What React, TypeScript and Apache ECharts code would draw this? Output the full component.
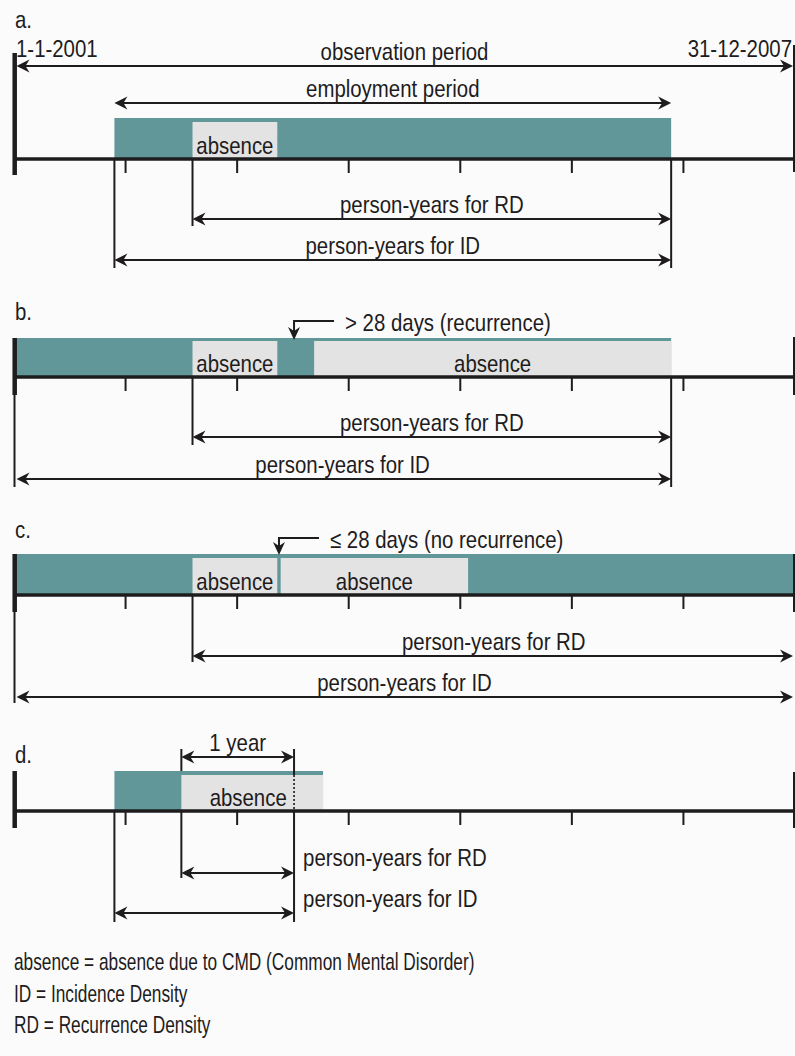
import React, { useEffect, useRef } from "react";
import * as echarts from "echarts";

// ---------- data: positions in years since 1-1-2001 ----------
const START_LABEL = "1-1-2001";
const END_LABEL = "31-12-2007";
const OBSERVATION = [0, 7];
const TICK_YEARS = [1, 2, 3, 4, 5, 6];
const PANEL_LABELS = ["a.", "b.", "c.", "d."];

const A_EMPLOYMENT = [0.9, 5.89];
const A_ABSENCES = [[1.6, 2.36]];
const A_RD = [1.6, 5.89];
const A_ID = [0.9, 5.89];

const B_EMPLOYMENT = [0, 5.89];
const B_ABSENCES = [[1.6, 2.36], [2.69, 5.89]];
const B_GAP = 2.51;
const B_RD = [1.6, 5.89];
const B_ID = [0, 5.89];
const B_NOTE = "> 28 days (recurrence)";

const C_EMPLOYMENT = [0, 7];
const C_ABSENCES = [[1.6, 2.36], [2.39, 4.07]];
const C_GAP = 2.375;
const C_RD = [1.6, 7];
const C_ID = [0, 7];
const C_NOTE = "\u2264 28 days (no recurrence)";

const D_EMPLOYMENT = [0.9, 2.77];
const D_ABSENCES = [[1.5, 2.77]];
const D_ONE_YEAR = [1.5, 2.51];
const D_RD = [1.5, 2.51];
const D_ID = [0.9, 2.51];

const LEGEND_LINES = [
  "absence = absence due to CMD (Common Mental Disorder)",
  "ID = Incidence Density",
  "RD = Recurrence Density",
];

const T_OBS = "observation period";
const T_EMP = "employment period";
const T_ABS = "absence";
const T_RD = "person-years for RD";
const T_ID = "person-years for ID";
const T_YEAR = "1 year";

// ---------- styles ----------
const INK = "#1e1c1d";
const TEAL = "#62979a";
const GREY = "#e3e3e3";
const FONT = "'Liberation Sans', Arial, sans-serif";
const FS = 24;
const SX = 0.85;
const SX_LEGEND = 0.72;

// ---------- element list (layout rows are pixel rows of the y scale) ----------
const ELEMENTS: any[] = [];
const rect = (x0: number, x1: number, y0: number, y1: number, fill: string) =>
  ELEMENTS.push({ k: "rect", x0, x1, y0, y1, fill });
const hl = (x0: number, x1: number, y: number, w: number) => ELEMENTS.push({ k: "hl", x0, x1, y, w });
const vl = (x: number, y0: number, y1: number, w: number, dx = 0, dash: number[] | null = null) =>
  ELEMENTS.push({ k: "vl", x, y0, y1, w, dx, dash });
const arrow = (x0: number, x1: number, y: number) => ELEMENTS.push({ k: "arrow", x0, x1, y });
const txt = (x: number, base: number, s: string, align = "center", dx = 0, sx = SX) =>
  ELEMENTS.push({ k: "text", x, base, s, align, dx, sx });
const callout = (x: number, lineY: number, tipY: number, s: string, base: number) => {
  ELEMENTS.push({ k: "callout", x, lineY, tipY });
  txt(x, base, s, "left", 51);
};
const mid = (r: number[]) => (r[0] + r[1]) / 2;

function axisRow(axisY: number, left: number[], right: number[], leftThin: number | null) {
  hl(OBSERVATION[0], OBSERVATION[1], axisY, 3.5);
  TICK_YEARS.forEach((t) => vl(t, axisY, axisY + 14, 2));
  vl(OBSERVATION[0], left[0], left[1], 4.5, 0.7);
  if (leftThin !== null) vl(OBSERVATION[0], left[1], leftThin, 2, 0.5);
  vl(OBSERVATION[1], right[0], right[1], 2, -1);
}

// panel a
{
  const axis = 159;
  txt(0, 28, PANEL_LABELS[0], "left", 1);
  txt(0, 57, START_LABEL, "left", 2);
  txt(7, 57, END_LABEL, "right", -3);
  rect(A_EMPLOYMENT[0], A_EMPLOYMENT[1], 118, axis, TEAL);
  A_ABSENCES.forEach((a) => {
    rect(a[0], a[1], 122, axis, GREY);
    txt(mid(a), axis - 5, T_ABS);
  });
  axisRow(axis, [53, 175], [45, 172], null);
  arrow(OBSERVATION[0], OBSERVATION[1], 66);
  txt(mid(OBSERVATION), 60, T_OBS);
  arrow(A_EMPLOYMENT[0], A_EMPLOYMENT[1], 103);
  txt(mid(A_EMPLOYMENT), 97, T_EMP);
  vl(A_ID[0], axis, 268, 2);
  vl(A_RD[0], axis, 226, 2);
  vl(A_RD[1], axis, 268, 2);
  arrow(A_RD[0], A_RD[1], 219);
  txt(mid(A_RD), 213, T_RD);
  arrow(A_ID[0], A_ID[1], 260);
  txt(mid(A_ID), 254, T_ID);
}

// panel b
{
  const axis = 377;
  txt(0, 320, PANEL_LABELS[1], "left", 1);
  rect(B_EMPLOYMENT[0], B_EMPLOYMENT[1], 338, axis, TEAL);
  B_ABSENCES.forEach((a) => {
    rect(a[0], a[1], 341, axis, GREY);
    txt(mid(a), axis - 5, T_ABS);
  });
  axisRow(axis, [338, 395], [337, 395], 487);
  callout(B_GAP, 321, 340, B_NOTE, 331);
  vl(B_RD[0], axis, 445, 2);
  vl(B_RD[1], axis, 487, 2);
  arrow(B_RD[0], B_RD[1], 437);
  txt(mid(B_RD), 431, T_RD);
  arrow(B_ID[0], B_ID[1], 479);
  txt(mid(B_ID), 473, T_ID);
}

// panel c
{
  const axis = 595;
  txt(0, 538, PANEL_LABELS[2], "left", 1);
  rect(C_EMPLOYMENT[0], C_EMPLOYMENT[1], 554, axis, TEAL);
  C_ABSENCES.forEach((a) => {
    rect(a[0], a[1], 558, axis, GREY);
    txt(mid(a), axis - 5, T_ABS);
  });
  axisRow(axis, [554, 612], [554, 612], 703);
  callout(C_GAP, 538, 555, C_NOTE, 548);
  vl(C_RD[0], axis, 662, 2);
  arrow(C_RD[0], C_RD[1], 656);
  txt(mid(C_RD), 650, T_RD);
  arrow(C_ID[0], C_ID[1], 697);
  txt(mid(C_ID), 691, T_ID);
}

// panel d
{
  const axis = 811;
  txt(0, 763, PANEL_LABELS[3], "left", 1);
  rect(D_EMPLOYMENT[0], D_EMPLOYMENT[1], 771, axis, TEAL);
  D_ABSENCES.forEach((a) => {
    rect(a[0], a[1], 775, axis, GREY);
    txt(mid(a), axis - 5, T_ABS, "center", -4);
  });
  axisRow(axis, [771, 828], [772, 828], null);
  vl(D_ONE_YEAR[0], 749, 771, 2);
  vl(D_ONE_YEAR[0], axis, 878, 2);
  vl(D_ONE_YEAR[1], 749, 775, 2);
  vl(D_ONE_YEAR[1], 775, axis, 1.6, 0, [2, 2]);
  vl(D_ONE_YEAR[1], axis, 922, 2);
  vl(D_ID[0], axis, 922, 2);
  arrow(D_ONE_YEAR[0], D_ONE_YEAR[1], 757);
  txt(mid(D_ONE_YEAR), 751, T_YEAR);
  arrow(D_RD[0], D_RD[1], 873);
  txt(D_RD[1], 866, T_RD, "left", 9);
  arrow(D_ID[0], D_ID[1], 913);
  txt(D_ID[1], 907, T_ID, "left", 9);
}

// legend
LEGEND_LINES.forEach((s, i) => txt(0, [970, 1002, 1033][i], s, "left", 0, SX_LEGEND));

function renderItem(params: any, api: any) {
  const e = ELEMENTS[params.dataIndex];
  const X = (t: number) => api.coord([t, 0])[0];
  const Y = (v: number) => api.coord([0, v])[1];
  if (e.k === "rect") {
    const x0 = X(e.x0), x1 = X(e.x1), y0 = Y(e.y0), y1 = Y(e.y1);
    return { type: "rect", shape: { x: x0, y: y0, width: x1 - x0, height: y1 - y0 }, style: { fill: e.fill } };
  }
  if (e.k === "hl") {
    return {
      type: "line",
      shape: { x1: X(e.x0), y1: Y(e.y), x2: X(e.x1), y2: Y(e.y) },
      style: { stroke: INK, lineWidth: e.w },
    };
  }
  if (e.k === "vl") {
    const x = X(e.x) + e.dx;
    return {
      type: "line",
      shape: { x1: x, y1: Y(e.y0), x2: x, y2: Y(e.y1) },
      style: { stroke: INK, lineWidth: e.w, lineDash: e.dash || undefined },
    };
  }
  if (e.k === "arrow") {
    const y = Y(e.y);
    let a = X(e.x0), b = X(e.x1);
    if (e.x0 === 0) a += 2.5;
    if (e.x1 === 7) b -= 2;
    return {
      type: "group",
      children: [
        { type: "line", shape: { x1: a + 6, y1: y, x2: b - 6, y2: y }, style: { stroke: INK, lineWidth: 2 } },
        { type: "polygon", shape: { points: [[a, y], [a + 13, y - 6.5], [a + 9, y], [a + 13, y + 6.5]] }, style: { fill: INK } },
        { type: "polygon", shape: { points: [[b, y], [b - 13, y - 6.5], [b - 9, y], [b - 13, y + 6.5]] }, style: { fill: INK } },
      ],
    };
  }
  if (e.k === "callout") {
    const tx = X(e.x), ly = Y(e.lineY), ty = Y(e.tipY);
    return {
      type: "group",
      children: [
        { type: "polyline", shape: { points: [[tx + 40, ly], [tx, ly], [tx, ty - 6]] }, style: { stroke: INK, lineWidth: 2, fill: null } },
        { type: "polygon", shape: { points: [[tx, ty], [tx - 6, ty - 13], [tx, ty - 9], [tx + 6, ty - 13]] }, style: { fill: INK } },
      ],
    };
  }
  // text
  return {
    type: "text",
    x: X(e.x) + e.dx,
    y: Y(e.base) - 0.35 * FS,
    scaleX: e.sx,
    style: {
      text: e.s,
      fill: INK,
      fontSize: FS,
      fontFamily: FONT,
      align: e.align,
      verticalAlign: "middle",
    },
  };
}

export default function App() {
  const ref = useRef<HTMLDivElement>(null);
  useEffect(() => {
    const chart = echarts.init(ref.current!, null, { renderer: "svg" });
    chart.setOption({
      animation: false,
      backgroundColor: "#fbfbfb",
      grid: { left: 14, right: 0, top: 0, bottom: 0 },
      xAxis: { type: "value", min: OBSERVATION[0], max: OBSERVATION[1], show: false },
      yAxis: { type: "value", min: 0, max: 1056, inverse: true, show: false },
      series: [
        {
          type: "custom",
          coordinateSystem: "cartesian2d",
          clip: false,
          silent: true,
          renderItem,
          data: ELEMENTS.map(() => [0, 0]),
        },
      ],
    });
    return () => chart.dispose();
  }, []);
  return (
    <div
      ref={ref}
      style={{ position: "absolute", left: 0, top: 0, width: 795, height: 1056 }}
    />
  );
}
